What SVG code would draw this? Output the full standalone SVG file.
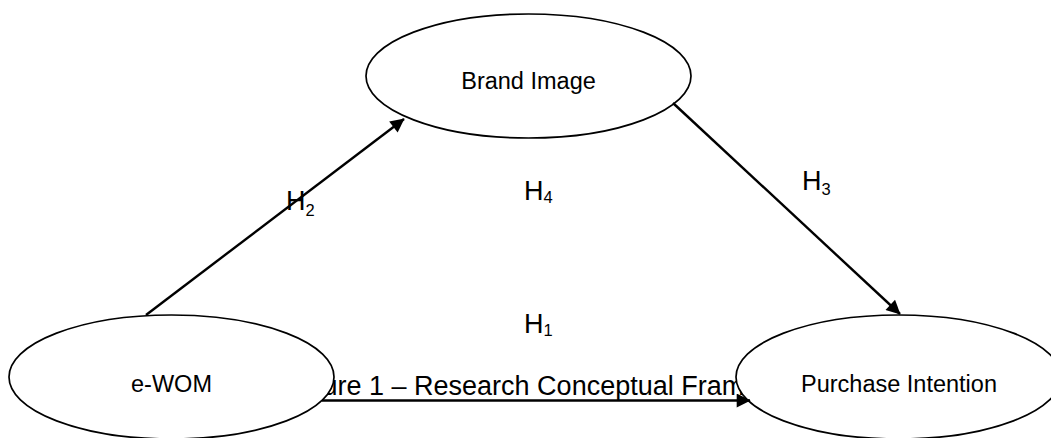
<svg xmlns="http://www.w3.org/2000/svg" width="1051" height="438" viewBox="0 0 1051 438">
  <style>
    .node { fill: #ffffff; stroke: #000000; stroke-width: 1.7; }
    .label { font-family: "Liberation Sans", Arial, sans-serif; font-size: 23.5px; fill: #000000; text-anchor: middle; }
    .edge { stroke: #000000; stroke-width: 2.4; fill: none; marker-end: url(#arrow); }
    .hyp { font-family: "Liberation Sans", Arial, sans-serif; font-size: 27px; fill: #000000; }
    .sub { font-size: 16.5px; }
    .caption { font-family: "Liberation Sans", Arial, sans-serif; font-size: 27px; fill: #000000; }
  </style>
  <defs>
    <marker id="arrow" viewBox="0 0 10 10" refX="9.5" refY="5" markerWidth="17" markerHeight="14" markerUnits="userSpaceOnUse" orient="auto">
      <path d="M0,0 L10,5 L0,10 Z" fill="#000000"/>
    </marker>
  </defs>

  <rect width="1051" height="438" fill="#ffffff"/>

  <!-- figure caption, partly covered by the node ellipses -->
  <text class="caption" x="285" y="395">Figure 1 – Research Conceptual Framework</text>

  <!-- nodes -->
  <g id="node-brand-image">
    <ellipse class="node" cx="528.5" cy="76" rx="162.5" ry="62"/>
    <text class="label" x="528.5" y="89">Brand Image</text>
  </g>
  <g id="node-ewom">
    <ellipse class="node" cx="171.5" cy="377" rx="162.5" ry="62"/>
    <text class="label" x="171.5" y="392">e-WOM</text>
  </g>
  <g id="node-purchase-intention">
    <ellipse class="node" cx="898.5" cy="377" rx="162.5" ry="62"/>
    <text class="label" x="899" y="392">Purchase Intention</text>
  </g>

  <!-- connectors -->
  <g id="connectors">
    <line class="edge" x1="146" y1="315" x2="404" y2="119"/>
    <line class="edge" x1="673" y1="103" x2="900" y2="314"/>
    <line class="edge" x1="322" y1="400.5" x2="750" y2="400.5"/>
  </g>

  <!-- hypothesis labels -->
  <g id="hypotheses">
    <text class="hyp" x="286" y="210">H<tspan class="sub" dy="5.5">2</tspan></text>
    <text class="hyp" x="524" y="199.5">H<tspan class="sub" dy="3">4</tspan></text>
    <text class="hyp" x="802" y="190">H<tspan class="sub" dy="5">3</tspan></text>
    <text class="hyp" x="524" y="333">H<tspan class="sub" dy="3">1</tspan></text>
  </g>
</svg>
